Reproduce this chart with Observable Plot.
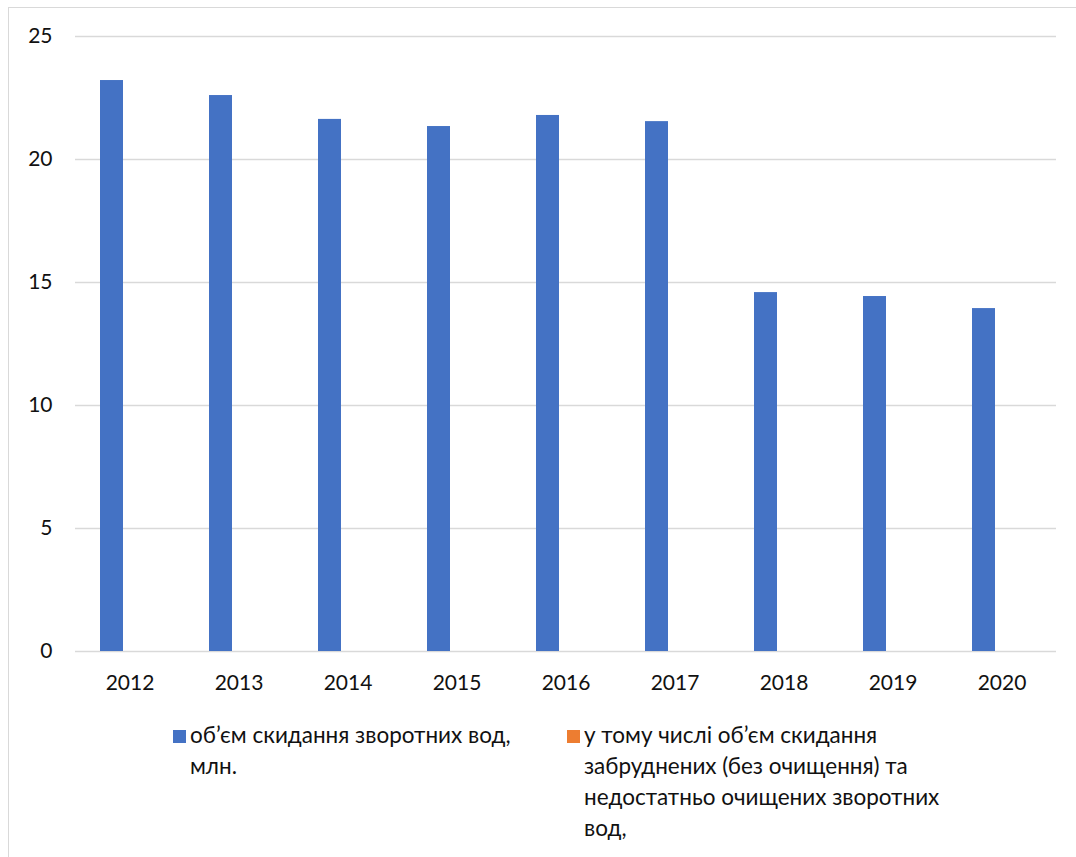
<!DOCTYPE html>
<html>
<head>
<meta charset="utf-8">
<script src="https://cdn.jsdelivr.net/npm/d3@7"></script>
<script src="https://cdn.jsdelivr.net/npm/@observablehq/plot@0.6"></script>
<style>
  html, body { margin: 0; padding: 0; background: #fff; }
  #wrap { position: relative; width: 1076px; height: 857px; overflow: hidden; font-family: Lato, "Open Sans", sans-serif; }
  #frame { position: absolute; left: 8px; top: 7px; width: 1100px; height: 900px; border: 1px solid #d9d9d9; box-sizing: border-box; }
  #chart { position: absolute; left: 0; top: 0; }
  .leg { position: absolute; top: 719px; font-size: 22.5px; line-height: 31px; color: #111; white-space: nowrap; }
  .sw { position: absolute; top: 10.5px; width: 13px; height: 13px; }
  .lt { margin-left: 17px; }
</style>
</head>
<body>
<div id="wrap">
  <div id="frame"></div>
  <div id="chart"></div>
  <div class="leg" id="leg1" style="left:173px"></div>
  <div class="leg" id="leg2" style="left:567px"></div>
</div>
<script>
const years = ["2012","2013","2014","2015","2016","2017","2018","2019","2020"];
const seriesNames = [
  "об’єм скидання зворотних вод, млн.",
  "у тому числі об’єм скидання забруднених (без очищення) та недостатньо очищених зворотних вод,"
];
const discharge = [23.21, 22.60, 21.63, 21.34, 21.79, 21.54, 14.59, 14.43, 13.94];
const polluted = [0, 0, 0, 0, 0, 0, 0, 0, 0];
const colors = ["#4472C4", "#ED7D31"];
const yTicks = [0, 5, 10, 15, 20, 25];
const legendLines = [
  ["об’єм скидання зворотних вод,", "млн."],
  ["у тому числі об’єм скидання", "забруднених (без очищення) та", "недостатньо очищених зворотних", "вод,"]
];

const data = [];
years.forEach((y, i) => {
  data.push({year: y, series: seriesNames[0], value: discharge[i]});
  data.push({year: y, series: seriesNames[1], value: polluted[i]});
});

const chart = Plot.plot({
  width: 1076,
  height: 700,
  marginTop: 36,
  marginBottom: 49,
  marginLeft: 73,
  marginRight: 19,
  style: {fontFamily: "Lato, 'Open Sans', sans-serif", fontSize: "21px", color: "#111", background: "transparent"},
  fx: {domain: years, padding: 0, label: null, tickSize: 0, tickPadding: 24},
  x: {domain: seriesNames, paddingInner: 0, paddingOuter: 1.28, align: 0.4, axis: null},
  y: {domain: [0, 25], ticks: yTicks, grid: true, label: null, tickSize: 0, tickPadding: 23},
  color: {domain: seriesNames, range: colors},
  marks: [
    Plot.gridY(yTicks, {stroke: "#d9d9d9", strokeOpacity: 1, strokeWidth: 1.5}),
    Plot.barY(data, {fx: "year", x: "series", y: "value", fill: "series"})
  ]
});
document.getElementById("chart").appendChild(chart);

function legend(id, i) {
  const el = document.getElementById(id);
  const sw = document.createElement("div");
  sw.className = "sw";
  sw.style.background = colors[i];
  el.appendChild(sw);
  const t = document.createElement("div");
  t.className = "lt";
  legendLines[i].forEach(line => {
    const d = document.createElement("div");
    d.textContent = line;
    t.appendChild(d);
  });
  el.appendChild(t);
}
legend("leg1", 0);
legend("leg2", 1);
</script>
</body>
</html>
